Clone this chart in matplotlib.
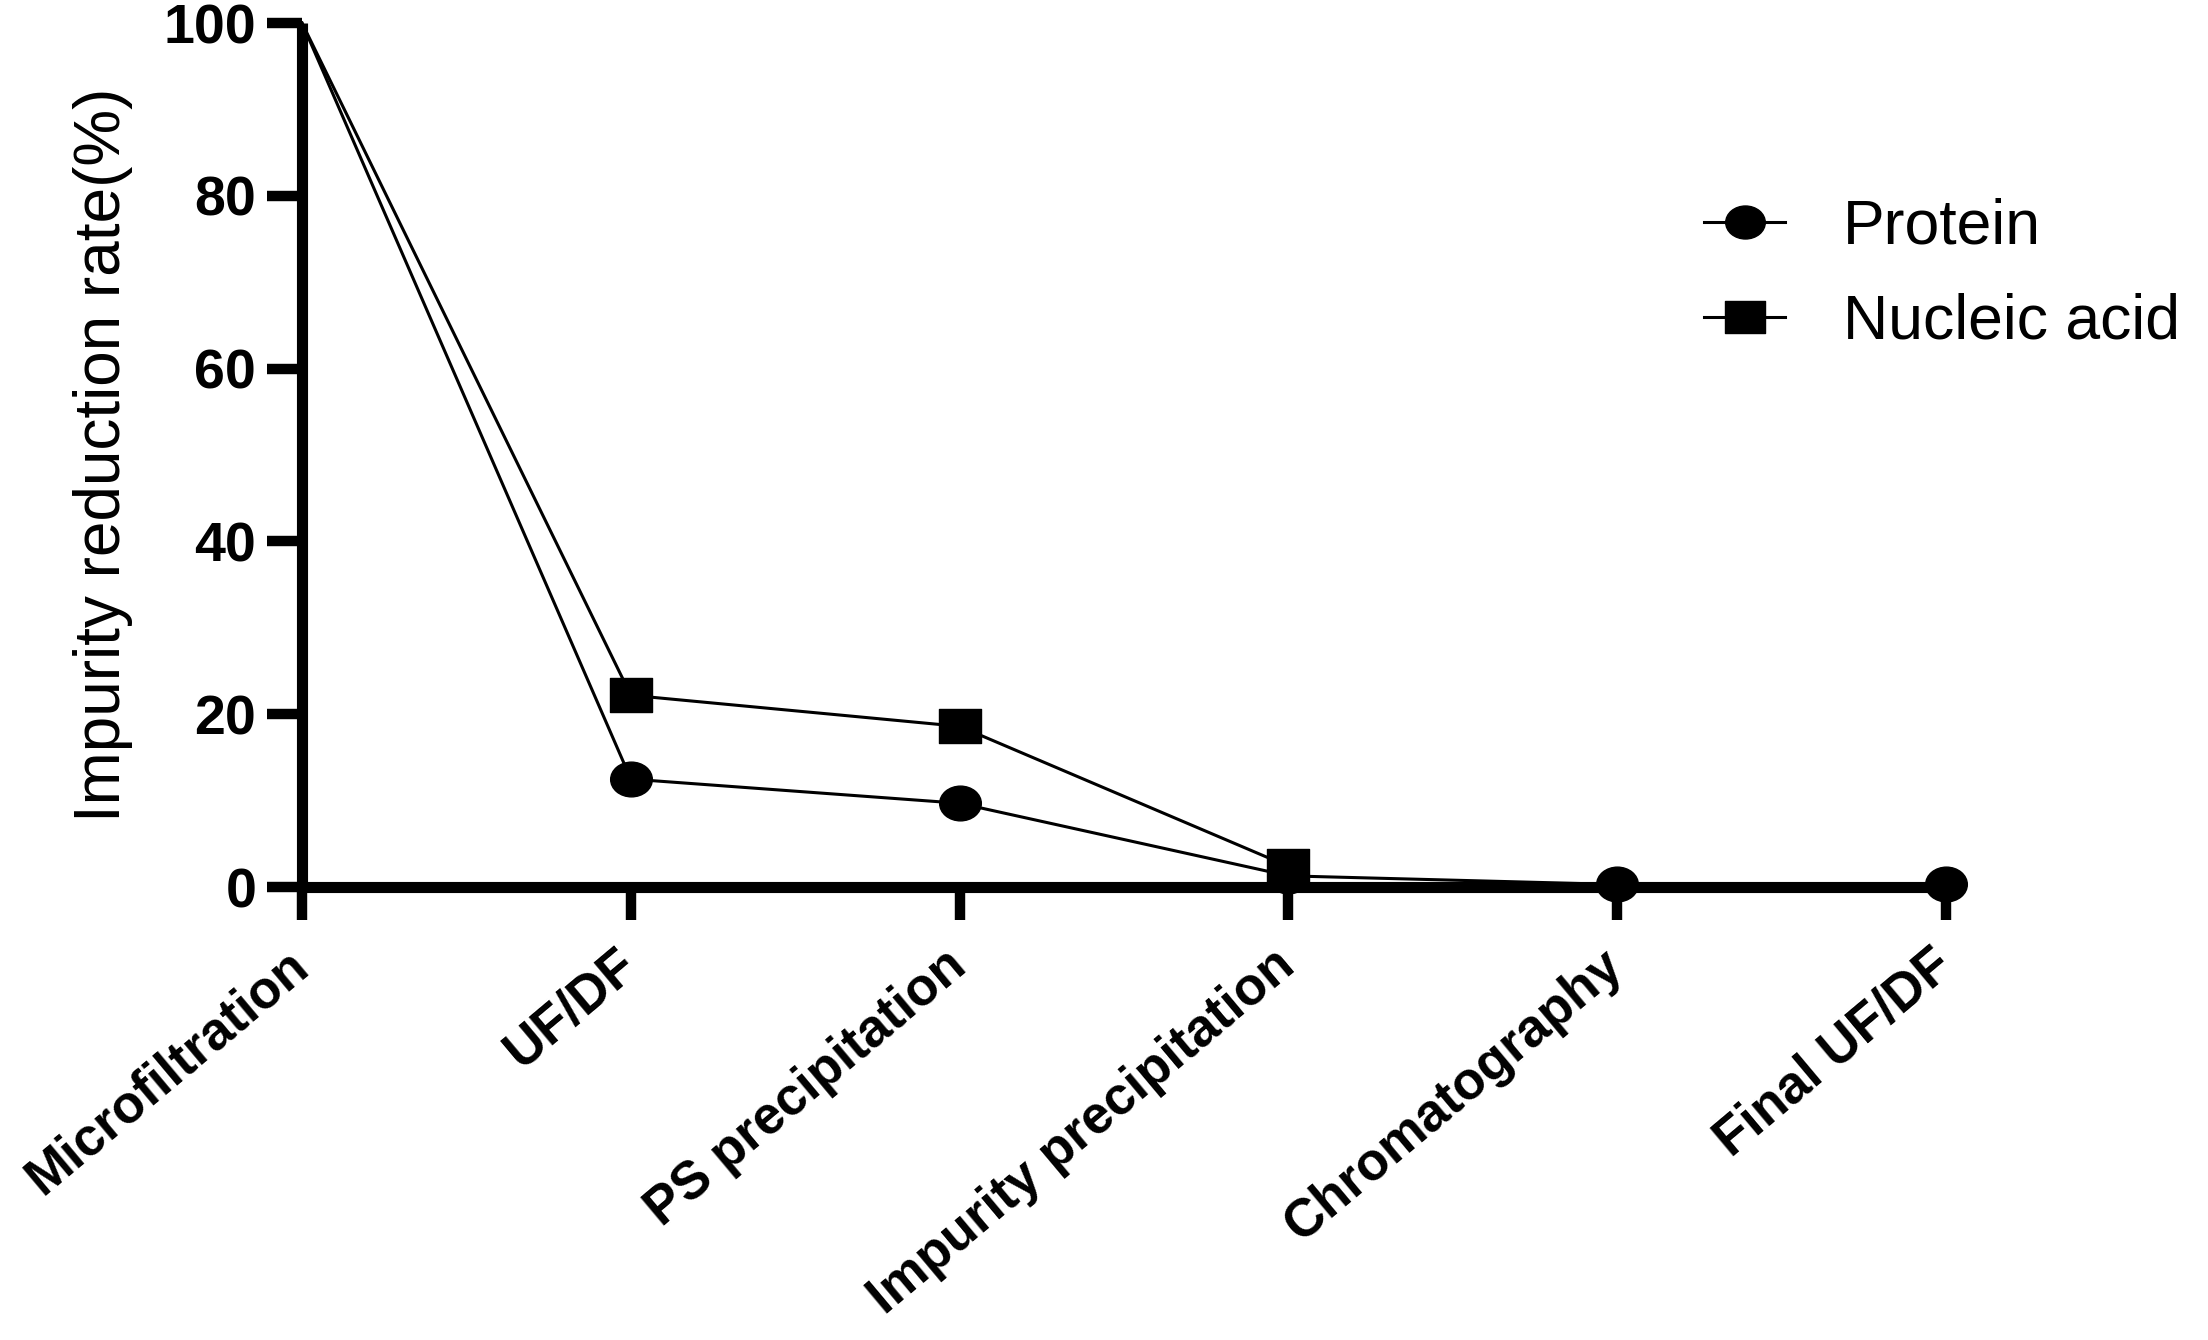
import numpy as np
import matplotlib
matplotlib.use('Agg')
import matplotlib.pyplot as plt
from matplotlib.path import Path

# data
steps = ['Microfiltration', 'UF/DF', 'PS precipitation',
         'Impurity precipitation', 'Chromatography', 'Final UF/DF']
protein = [100, 12.5, 9.7, 1.3, 0.3, 0.3]
nucleic_acid = [100, 22.2, 18.6, 2.4, np.nan, np.nan]
yticks = [0, 20, 40, 60, 80, 100]

plt.rcParams['font.family'] = ['Liberation Sans', 'DejaVu Sans']

# the source picture is stretched sideways, so markers are a bit wider than tall
circ = Path.unit_circle()
ellipse = Path(circ.vertices * np.array([1.2, 1.0]), circ.codes)
rect = Path([(-0.6, -0.5), (0.6, -0.5), (0.6, 0.5), (-0.6, 0.5), (-0.6, -0.5)],
            [Path.MOVETO, Path.LINETO, Path.LINETO, Path.LINETO, Path.CLOSEPOLY])

fig = plt.figure(figsize=(22.08, 13.4), dpi=100)
ax = fig.add_axes([0.1368, 0.338, 0.752, 0.6448])

x = np.arange(len(steps))
# first point (100 %) is drawn without a marker
ax.plot(x, protein, color='black', lw=2.2, marker=ellipse, ms=30,
        markevery=slice(1, None), label='Protein', clip_on=False, zorder=5)
ax.plot(x, nucleic_acid, color='black', lw=2.2, marker=rect, ms=30,
        markevery=slice(1, None), label='Nucleic acid', clip_on=False, zorder=6)

ax.set_xlim(0, 5.05)
ax.set_ylim(0, 100)
ax.set_yticks(yticks)
ax.set_xticks(x)
ax.set_xticklabels(steps, rotation=40, ha='right', va='center',
                   rotation_mode='anchor', fontsize=38, fontweight='bold')
for lab in ax.get_yticklabels():
    lab.set_fontweight('bold')
    lab.set_fontsize(40)

for side in ['top', 'right']:
    ax.spines[side].set_visible(False)
for side in ['left', 'bottom']:
    ax.spines[side].set_linewidth(8)
    ax.spines[side].set_capstyle('butt')

ax.tick_params(axis='y', direction='out', length=25, width=7.5, pad=8)
ax.tick_params(axis='x', direction='out', length=24, width=7.5, pad=28)

ax.set_ylabel('Impurity reduction rate(%)', fontsize=46, labelpad=22)

ax.legend(loc='center left', bbox_to_anchor=(0.7717, 0.795),
          bbox_transform=fig.transFigure, frameon=False, fontsize=45,
          handlelength=1.3, handletextpad=0.92, labelspacing=0.58,
          borderpad=0, borderaxespad=0, markerscale=0.95)

fig.savefig('out.png', dpi=100)
